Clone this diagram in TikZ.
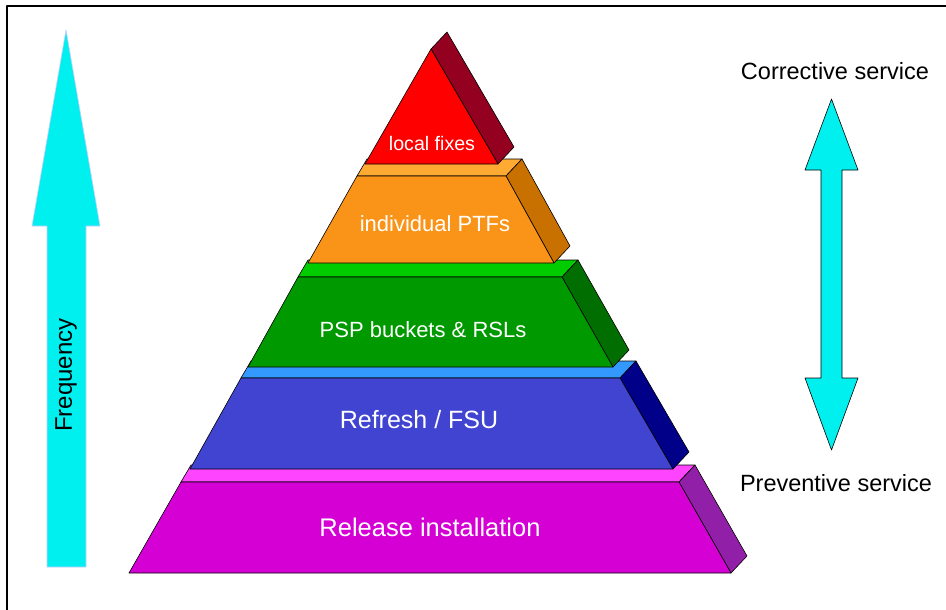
\documentclass[tikz,border=0pt]{standalone}
\usepackage{fontspec}
\setmainfont{Liberation Sans}
\usepackage{tikz}
\usetikzlibrary{calc}

\definecolor{fixfront}{HTML}{FF0000}
\definecolor{fixside}{HTML}{94001F}
\definecolor{ptffront}{HTML}{FA9418}
\definecolor{ptftop}{HTML}{FFAA33}
\definecolor{ptfside}{HTML}{C87000}
\definecolor{pspfront}{HTML}{009900}
\definecolor{psptop}{HTML}{00CC00}
\definecolor{pspside}{HTML}{006E00}
\definecolor{fsufront}{HTML}{4044D0}
\definecolor{fsutop}{HTML}{3399FF}
\definecolor{fsuside}{HTML}{000088}
\definecolor{relfront}{HTML}{D400D4}
\definecolor{reltop}{HTML}{FF44FF}
\definecolor{relside}{HTML}{921FA8}
\definecolor{arrowcyan}{HTML}{00F0F0}

\begin{document}
\begin{tikzpicture}[
				x=1pt, y=-1pt,
				line cap=round,
				line join=round,
				every node/.style={font=\fontsize{23.5}{28}\selectfont},
				face/.style={draw=black, line width=0.6pt},
				layertext/.style={text=white}
				]
				\useasboundingbox (0,0) rectangle (946,610);
				
				% Frame
				\draw[line width=1.3pt] (7,610) -- (7,6) -- (946,6);
				
				% Release installation
				\filldraw[face, fill=reltop] (181,482) -- (679,482) -- (695,465) -- (191,465) -- cycle;
				\filldraw[face, fill=relside] (679,482) -- (695,465) -- (747,556) -- (731,573) -- cycle;
				\filldraw[face, fill=relfront] (129,573) -- (731,573) -- (679,482) -- (181,482) -- cycle;
				\node[layertext, font=\fontsize{25.5}{30}\selectfont] (release) at (430,527) {Release installation};
				
				% Refresh / FSU
				\filldraw[face, fill=fsutop] (241,378) -- (620,378) -- (636,361) -- (251,361) -- cycle;
				\filldraw[face, fill=fsuside] (620,378) -- (636,361) -- (689,452) -- (673,469) -- cycle;
				\filldraw[face, fill=fsufront] (190,469) -- (673,469) -- (620,378) -- (241,378) -- cycle;
				\node[layertext, font=\fontsize{25}{30}\selectfont] (refresh) at (419,420) {Refresh / FSU};
				
				% PSP buckets & RSLs
				\filldraw[face, fill=psptop] (298,277) -- (562,277) -- (578,260) -- (308,260) -- cycle;
				\filldraw[face, fill=pspside] (562,277) -- (578,260) -- (629,350) -- (613,367) -- cycle;
				\filldraw[face, fill=pspfront] (248,367) -- (613,367) -- (562,277) -- (298,277) -- cycle;
				\node[layertext, font=\fontsize{22}{26}\selectfont] (psp) at (423,330) {PSP buckets \& RSLs};
				
				% individual PTFs
				\filldraw[face, fill=ptftop] (357,176) -- (506,176) -- (522,159) -- (367,159) -- cycle;
				\filldraw[face, fill=ptfside] (506,176) -- (522,159) -- (570,246) -- (554,263) -- cycle;
				\filldraw[face, fill=ptffront] (308,263) -- (554,263) -- (506,176) -- (357,176) -- cycle;
				\node[layertext, font=\fontsize{22}{26}\selectfont] (ptfs) at (435,224) {individual PTFs};
				
				% local fixes
				\filldraw[face, fill=fixside] (431,49) -- (447,32) -- (514,147) -- (498,164) -- cycle;
				\filldraw[face, fill=fixfront] (431,49) -- (365,164) -- (498,164) -- cycle;
				\node[layertext, font=\fontsize{19.6}{24}\selectfont] (fixes) at (432,143) {local fixes};
				
				% Frequency arrow
				\filldraw[fill=arrowcyan, draw=blue!20, line width=0.6pt]
					(47,567) -- (86,567) -- (86,226) -- (100,226) -- (66,30) -- (32,226) -- (47,226) -- cycle;
				\node[rotate=90, font=\fontsize{24}{28}\selectfont] (freq) at (66,375) {Frequency};
				
				% Service arrow
				\filldraw[face, fill=arrowcyan]
					(831.5,99) -- (858,170) -- (842,170) -- (842,378) -- (858,378) -- (831.5,450)
					-- (805,378) -- (821,378) -- (821,170) -- (805,170) -- cycle;
				\node (corrective) at (835,71) {Corrective service};
				\node (preventive) at (836,483) {Preventive service};
			\end{tikzpicture}
\end{document}
